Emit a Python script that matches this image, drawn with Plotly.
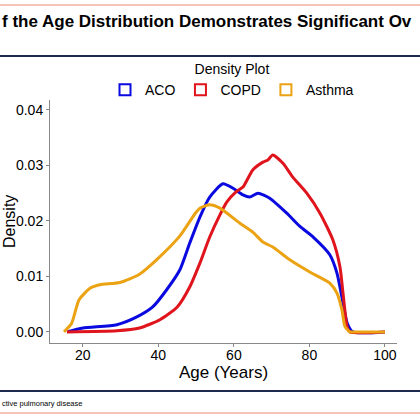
import plotly.graph_objects as go

# ages (years) and density values
aco_age = [15.8, 20, 29, 34.3, 38.5, 42.2, 45.7, 48.3, 51, 53.6, 57.1, 60, 62.4, 64.2,
           66.4, 69.5, 74, 77.5, 81, 85.4, 87.3, 88.6, 90, 91.5, 100]
aco_density = [0, 0.0007, 0.0013, 0.0027, 0.0045, 0.0076, 0.0112, 0.016, 0.0207, 0.0243,
               0.0267, 0.0258, 0.0247, 0.0243, 0.025, 0.0241, 0.0214, 0.019, 0.0171, 0.0139,
               0.0106, 0.0063, 0.0016, 0, 0]

copd_age = [15.8, 29, 35, 40.4, 45, 48.3, 51, 53.6, 56.3, 58.1, 60.5, 62.4, 65, 67.7,
            69, 70.3, 73, 75.6, 79.3, 82.8, 86.2, 88.1, 88.9, 90, 90.7, 100]
copd_density = [0, 0.0002, 0.0007, 0.0022, 0.0045, 0.0081, 0.0124, 0.0171, 0.0211, 0.0234,
                0.0252, 0.0261, 0.0292, 0.0306, 0.031, 0.0319, 0.0304, 0.0279, 0.025, 0.0214,
                0.0166, 0.0117, 0.007, 0.0009, 0, 0]

asthma_age = [15, 17, 19, 22, 24.5, 29.8, 35, 40, 45.7, 49.7, 51, 53.6, 56.3, 61.6, 65,
              67.7, 70.3, 74.8, 80.1, 85.4, 87.3, 88.6, 89.4, 90.7, 92, 100]
asthma_density = [0, 0.0015, 0.0058, 0.0079, 0.0085, 0.0089, 0.0104, 0.0133, 0.0173, 0.0213,
                  0.0223, 0.0229, 0.0223, 0.0196, 0.018, 0.0162, 0.0153, 0.013, 0.0108,
                  0.0088, 0.007, 0.004, 0.001, 0, 0, 0]

series = [
    ("ACO", aco_age, aco_density, "#0a0ae0"),
    ("COPD", copd_age, copd_density, "#e0141c"),
    ("Asthma", asthma_age, asthma_density, "#eba313"),
]

W = H = 420
M_L, M_R, M_T, M_B = 50, 23, 100, 77
PW, PH = W - M_L - M_R, H - M_T - M_B


def py2paper(py):
    # pixel row from the top of the picture -> paper y
    return (H - M_B - py) / PH


def px2paper(px):
    return (px - M_L) / PW


fig = go.Figure()
for name, ages, dens, color in series:
    fig.add_trace(
        go.Scatter(
            x=ages,
            y=dens,
            mode="lines",
            line=dict(color=color, width=3, shape="spline", smoothing=0.6),
            showlegend=False,
            hoverinfo="skip",
        )
    )
# legend keys drawn as open boxes, like the original
for name, ages, dens, color in series:
    fig.add_trace(
        go.Scatter(
            x=[None],
            y=[None],
            mode="markers",
            name=name,
            marker=dict(symbol="square-open", size=11, color=color, line=dict(width=2)),
        )
    )


def hline(py, color):
    return dict(type="line", xref="paper", yref="paper", x0=-1, x1=2,
                y0=py2paper(py), y1=py2paper(py), line=dict(color=color, width=2))


axis_style = dict(
    showgrid=False,
    zeroline=False,
    showline=True,
    linecolor="#888888",
    linewidth=1,
    ticks="outside",
    ticklen=3,
    tickcolor="#888888",
    tickfont=dict(size=14),
    automargin=False,
)

fig.update_layout(
    width=W,
    height=H,
    template="plotly_white",
    paper_bgcolor="white",
    plot_bgcolor="white",
    font=dict(family="Liberation Sans, Arial", color="black"),
    margin=dict(l=M_L, r=M_R, t=M_T, b=M_B, autoexpand=False),
    legend=dict(
        orientation="h",
        x=px2paper(232),
        xanchor="center",
        yref="container",
        y=1 - 56 / H,
        yanchor="top",
        bgcolor="rgba(0,0,0,0)",
        font=dict(size=14),
        title=dict(text="Density Plot", side="top center", font=dict(size=14)),
        itemwidth=30,
    ),
    xaxis=dict(
        range=[11.3, 103.2],
        tickvals=[20, 40, 60, 80, 100],
        ticklabelstandoff=-4,
        title=dict(text="Age (Years)", font=dict(size=17), standoff=0),
        **axis_style,
    ),
    yaxis=dict(
        range=[-0.002, 0.0418],
        tickvals=[0, 0.01, 0.02, 0.03, 0.04],
        tickformat=".2f",
        **axis_style,
    ),
    shapes=[
        hline(5, "#f5c4b4"),
        hline(56, "#1c2a50"),
        hline(391, "#1c2a50"),
        hline(413, "#f5c4b4"),
    ],
    annotations=[
        dict(text="<b>f the Age Distribution Demonstrates Significant Ov</b>",
             xref="paper", yref="paper", x=px2paper(0), y=py2paper(22), xanchor="left",
             yanchor="middle", showarrow=False, font=dict(size=17, color="black")),
        dict(text="Density", textangle=-90,
             xref="paper", yref="paper", x=px2paper(9), y=py2paper(222), xanchor="center",
             yanchor="middle", showarrow=False, font=dict(size=16, color="black")),
        dict(text="ctive pulmonary disease",
             xref="paper", yref="paper", x=px2paper(0), y=py2paper(403), xanchor="left",
             yanchor="middle", showarrow=False, font=dict(size=7.5, color="black")),
    ],
)

fig.write_html(
    "out.html",
    config={"displayModeBar": False},
    post_script="document.body.style.margin='0';",
)
